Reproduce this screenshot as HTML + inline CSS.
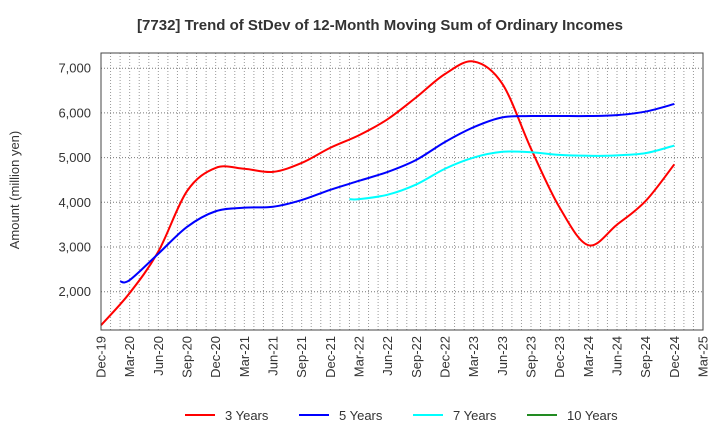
<!DOCTYPE html>
<html><head><meta charset="utf-8"><style>
body{margin:0;background:#fff;font-family:"Liberation Sans",sans-serif}
svg text{font-family:"Liberation Sans",sans-serif;fill:#333}
</style></head><body>
<svg id="c" width="720" height="440" xmlns="http://www.w3.org/2000/svg">
<text x="380" y="30" text-anchor="middle" font-size="15" font-weight="bold">[7732]  Trend of StDev of 12-Month Moving Sum of Ordinary Incomes</text>
<text transform="translate(19,190) rotate(-90)" text-anchor="middle" font-size="13">Amount (million yen)</text>
</svg>
<script>
const xLabels=["Dec-19","Mar-20","Jun-20","Sep-20","Dec-20","Mar-21","Jun-21","Sep-21","Dec-21","Mar-22","Jun-22","Sep-22","Dec-22","Mar-23","Jun-23","Sep-23","Dec-23","Mar-24","Jun-24","Sep-24","Dec-24","Mar-25"];
const yTicks=[2000,3000,4000,5000,6000,7000];
const m3=[0,3,6,9,12,15,18,21,24,27,30,33,36,39,42,45,48,51,54,57,60];
const v3=[1250,1970,2900,4250,4770,4750,4680,4880,5220,5500,5860,6350,6870,7150,6650,5200,3880,3040,3500,4030,4850];
const m5=[2,3,6,9,12,15,18,21,24,27,30,33,36,39,42,45,48,51,54,57,60];
const v5=[2230,2260,2850,3450,3800,3880,3900,4050,4280,4480,4680,4950,5350,5680,5900,5930,5930,5930,5950,6030,6200];
const m7=[26,27,30,33,36,39,42,45,48,51,54,57,60];
const v7=[4070,4070,4170,4400,4750,5000,5130,5120,5060,5040,5050,5100,5270];
const L=101,R=703,T=53,B=330;
const X=m=>L+(R-L)*m/63;
const Y=v=>291.7-(v-2000)*0.0447;
const s=document.getElementById('c'),NS="http://www.w3.org/2000/svg";
function el(t,a,p){const e=document.createElementNS(NS,t);for(const k in a)e.setAttribute(k,a[k]);(p||s).appendChild(e);return e;}
const g=el('g',{});


for(let m=1;m<63;m++){el('line',{x1:X(m),x2:X(m),y1:T,y2:B,stroke:'#999','stroke-dasharray':'1,2','stroke-width':1},g);}
yTicks.forEach(v=>{el('line',{x1:L,x2:R,y1:Y(v),y2:Y(v),stroke:'#777','stroke-dasharray':'1,2','stroke-width':1},g);});
yTicks.forEach(v=>{const t=el('text',{x:L-10,y:Y(v)+4.5,'text-anchor':'end','font-size':13});t.textContent=v.toLocaleString('en-US');

});
xLabels.forEach((l,i)=>{const x=X(i*3);const t=el('text',{transform:`translate(${x+4.5},${B+6}) rotate(-90)`,'text-anchor':'end','font-size':13});t.textContent=l;

});
function path(ms,vs){const p=ms.map((m,i)=>[X(m),Y(vs[i])]);let d=`M${p[0][0]},${p[0][1]}`;
for(let i=0;i<p.length-1;i++){const p0=p[i-1]||p[i],p1=p[i],p2=p[i+1],p3=p[i+2]||p2;
d+=`C${p1[0]+(p2[0]-p0[0])/6},${p1[1]+(p2[1]-p0[1])/6} ${p2[0]-(p3[0]-p1[0])/6},${p2[1]-(p3[1]-p1[1])/6} ${p2[0]},${p2[1]}`;}return d;}
[[m3,v3,'#f00','line-3-years'],[m5,v5,'#00f','line-5-years'],[m7,v7,'#0ff','line-7-years']].forEach(a=>{const e=el('path',{d:path(a[0],a[1]),fill:'none',stroke:a[2],'stroke-width':2});

});
const fr=el('rect',{x:L,y:T,width:R-L,height:B-T,fill:'none',stroke:'#444','stroke-width':1});


[['3 Years','#f00',185],['5 Years','#00f',299],['7 Years','#0ff',413],['10 Years','#228b22',527]].forEach(a=>{const lg=el('g',{});


el('line',{x1:a[2],x2:a[2]+30,y1:415,y2:415,stroke:a[1],'stroke-width':2},lg);
const t=el('text',{x:a[2]+40,y:420,'font-size':13},lg);t.textContent=a[0];});
</script>
</body></html>
